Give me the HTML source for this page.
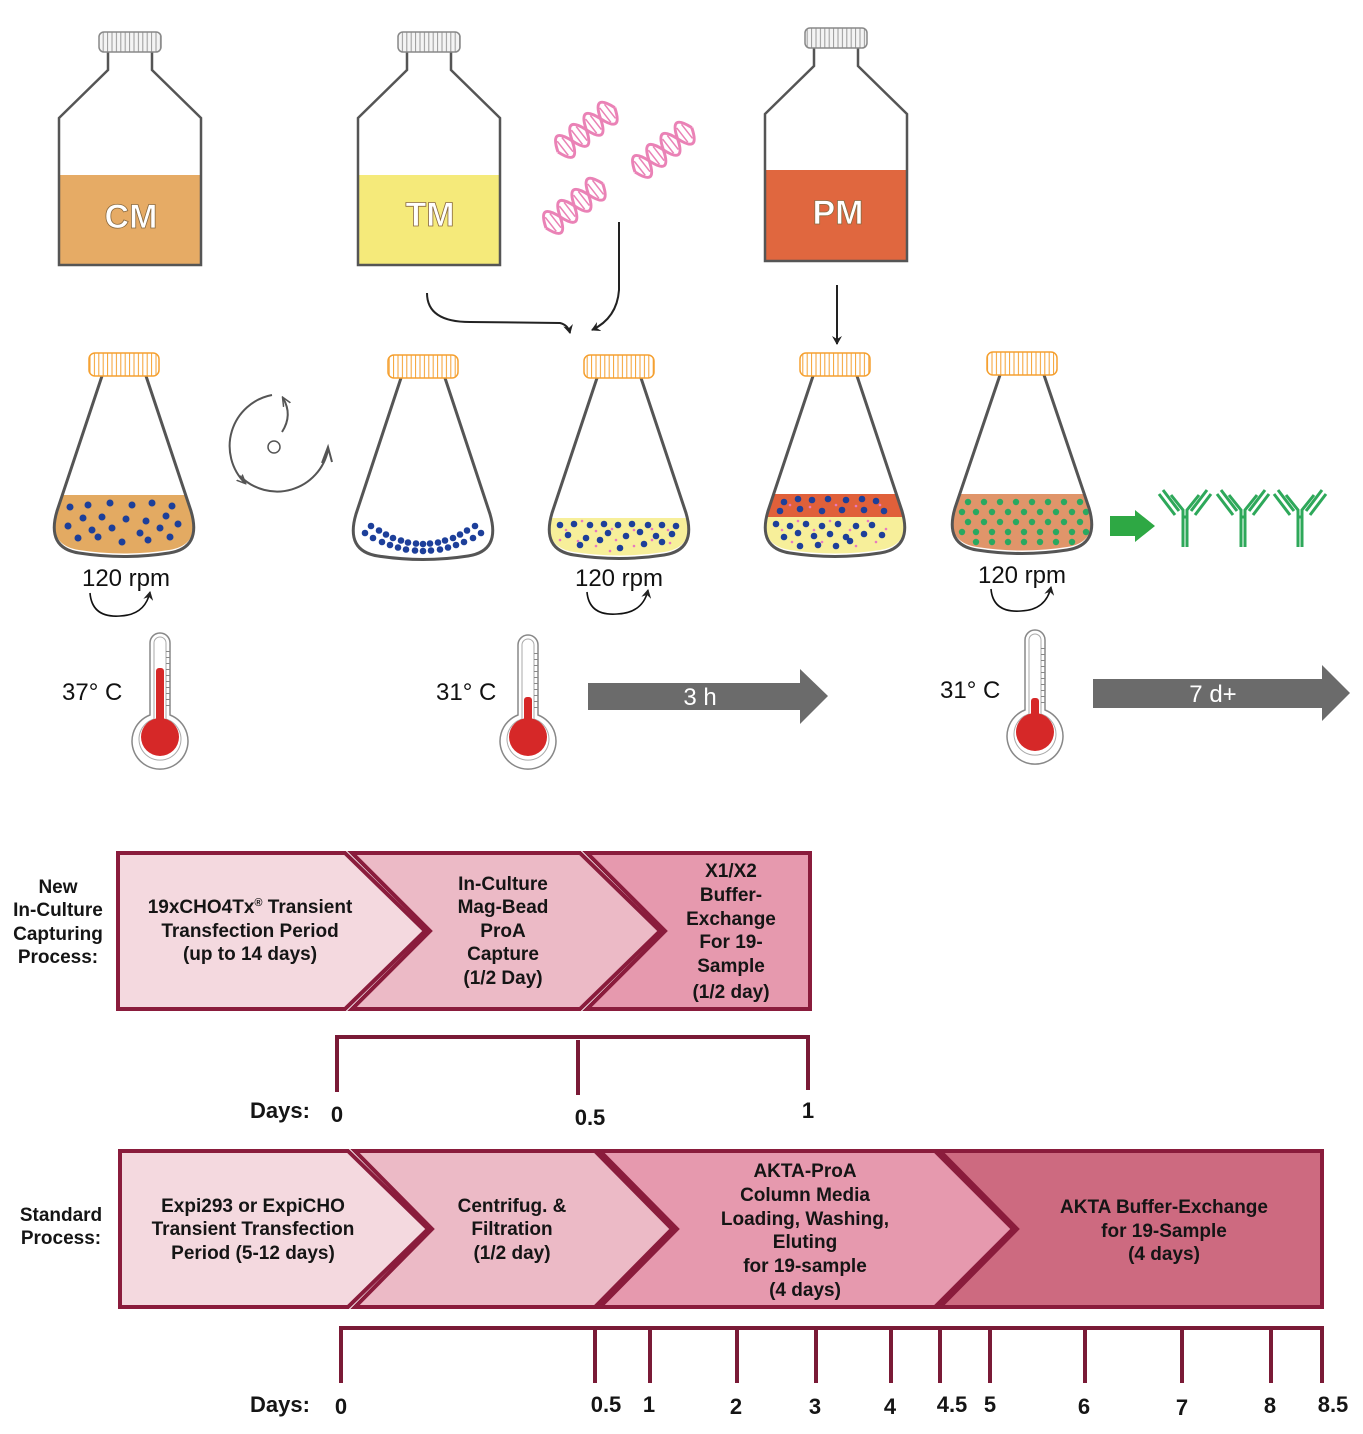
<!DOCTYPE html>
<html><head><meta charset="utf-8"><style>
html,body{margin:0;padding:0;background:#fff}
svg{display:block}
text{font-family:"Liberation Sans",sans-serif}
.b{font-weight:bold;font-size:19px;fill:#151515;text-anchor:middle}
.t{font-size:24px;fill:#111}
.bl{fill:#1d3f9a}
.pk{fill:#e879c0}
.gr{fill:#2aa860}
</style></head><body>
<svg width="1363" height="1434" viewBox="0 0 1363 1434" xmlns="http://www.w3.org/2000/svg">
<defs>
<marker id="ah" markerWidth="10" markerHeight="10" refX="8" refY="5" orient="auto" markerUnits="userSpaceOnUse"><path d="M0,0 L9,5 L0,10 L3,5Z" fill="#222"/></marker>
<marker id="ag" markerWidth="10" markerHeight="10" refX="8" refY="5" orient="auto" markerUnits="userSpaceOnUse"><path d="M0,1 L9,5 L0,9" fill="none" stroke="#555" stroke-width="1.5"/></marker>
<pattern id="so" width="4.4" height="30" patternUnits="userSpaceOnUse"><rect width="4.4" height="30" fill="#fff"/><line x1="2" y1="0" x2="2" y2="30" stroke="#f5a030" stroke-width="1"/></pattern>
<pattern id="sg" width="4.4" height="30" patternUnits="userSpaceOnUse"><rect width="4.4" height="30" fill="#f4f4f4"/><line x1="2" y1="0" x2="2" y2="30" stroke="#999" stroke-width="1"/></pattern>
<clipPath id="c1"><path d="M102,376 L57,508 Q46,545 79,550 Q124,557 169,550 Q202,545 191,508 L146,376Z"/></clipPath>
<clipPath id="c3"><path d="M597,378 L552,510 Q541,547 574,552 Q619,559 664,552 Q697,547 686,510 L641,378Z"/></clipPath>
<clipPath id="c4"><path d="M813,376 L768,508 Q757,545 790,550 Q835,557 880,550 Q913,545 902,508 L857,376Z"/></clipPath>
<clipPath id="c5"><path d="M1000,375 L955,505 Q944,542 977,547 Q1022,554 1067,547 Q1100,542 1089,505 L1044,375Z"/></clipPath>
<g id="dna" fill="none" stroke="#ea82b6" stroke-width="3"><path d="M0,0 Q9,26 18,0 T36,0 T54,0 T72,0"/><path d="M0,0 Q9,-26 18,0 T36,0 T54,0 T72,0"/><path stroke-width="1.5" d="M6,-9V9 M12,-9V9 M24,-9V9 M30,-9V9 M42,-9V9 M48,-9V9 M60,-9V9 M66,-9V9"/></g>
</defs>

<!-- bottles -->
<rect x="59" y="175" width="142" height="90" fill="#e6ab65"/>
<path d="M108,52 L108,70 L59,118 L59,265 L201,265 L201,118 L152,70 L152,52" fill="none" stroke="#555" stroke-width="2.5"/>
<rect x="99" y="32" width="62" height="20" rx="5" fill="url(#sg)" stroke="#888" stroke-width="1.5"/>
<text x="131" y="228" text-anchor="middle" font-size="34" font-weight="bold" fill="#fff" stroke="#8a6a40" stroke-width="0.8">CM</text>

<rect x="358" y="175" width="142" height="90" fill="#f5ea7a"/>
<path d="M407,52 L407,70 L358,118 L358,265 L500,265 L500,118 L451,70 L451,52" fill="none" stroke="#555" stroke-width="2.5"/>
<rect x="398" y="32" width="62" height="20" rx="5" fill="url(#sg)" stroke="#888" stroke-width="1.5"/>
<text x="430" y="226" text-anchor="middle" font-size="34" font-weight="bold" fill="#fff" stroke="#8a6a40" stroke-width="0.8">TM</text>

<rect x="765" y="170" width="142" height="91" fill="#e0673f"/>
<path d="M814,48 L814,66 L765,114 L765,261 L907,261 L907,114 L858,66 L858,48" fill="none" stroke="#555" stroke-width="2.5"/>
<rect x="805" y="28" width="62" height="20" rx="5" fill="url(#sg)" stroke="#888" stroke-width="1.5"/>
<text x="838" y="224" text-anchor="middle" font-size="34" font-weight="bold" fill="#fff" stroke="#8a6a40" stroke-width="0.8">PM</text>

<!-- DNA -->
<use href="#dna" transform="translate(558,152) rotate(-38)"/>
<use href="#dna" transform="translate(635,172) rotate(-38)"/>
<use href="#dna" transform="translate(546,228) rotate(-38)"/>

<!-- connectors -->
<path d="M427,293 Q427,322 470,322 L560,323 Q568,325 570,333" fill="none" stroke="#222" stroke-width="2" marker-end="url(#ah)"/>
<path d="M619,222 L619,290 Q617,318 592,330" fill="none" stroke="#222" stroke-width="2" marker-end="url(#ah)"/>
<line x1="837" y1="285" x2="837" y2="344" stroke="#222" stroke-width="2" marker-end="url(#ah)"/>

<!-- flask 1 -->
<g clip-path="url(#c1)"><rect x="40" y="495" width="170" height="80" fill="#e3aa62"/>
<g class="bl"><circle cx="70" cy="507" r="3.5"/><circle cx="88" cy="505" r="3.5"/><circle cx="110" cy="503" r="3.5"/><circle cx="132" cy="505" r="3.5"/><circle cx="152" cy="503" r="3.5"/><circle cx="172" cy="506" r="3.5"/><circle cx="83" cy="518" r="3.5"/><circle cx="102" cy="517" r="3.5"/><circle cx="126" cy="519" r="3.5"/><circle cx="146" cy="521" r="3.5"/><circle cx="166" cy="516" r="3.5"/><circle cx="68" cy="526" r="3.5"/><circle cx="92" cy="530" r="3.5"/><circle cx="112" cy="528" r="3.5"/><circle cx="140" cy="533" r="3.5"/><circle cx="160" cy="528" r="3.5"/><circle cx="178" cy="524" r="3.5"/><circle cx="78" cy="538" r="3.5"/><circle cx="98" cy="537" r="3.5"/><circle cx="122" cy="542" r="3.5"/><circle cx="148" cy="540" r="3.5"/><circle cx="170" cy="537" r="3.5"/></g></g>
<path d="M102,376 L57,511 Q46,548 79,553 Q124,560 169,553 Q202,548 191,511 L146,376" fill="none" stroke="#555" stroke-width="3"/>
<rect x="89" y="353" width="70" height="23" rx="6" fill="url(#so)" stroke="#f5a030" stroke-width="1.5"/>

<!-- flask 2 -->
<g class="bl">
<circle cx="365" cy="533" r="3.3"/><circle cx="373" cy="538" r="3.3"/><circle cx="382" cy="542" r="3.3"/><circle cx="390" cy="545" r="3.3"/><circle cx="398" cy="547.5" r="3.3"/><circle cx="406" cy="549.5" r="3.3"/><circle cx="415" cy="550.5" r="3.3"/><circle cx="423" cy="551" r="3.3"/><circle cx="431" cy="550.5" r="3.3"/><circle cx="440" cy="549.5" r="3.3"/><circle cx="448" cy="547.5" r="3.3"/><circle cx="456" cy="545" r="3.3"/><circle cx="464" cy="542" r="3.3"/><circle cx="473" cy="538" r="3.3"/><circle cx="481" cy="533" r="3.3"/>
<circle cx="371" cy="526" r="3.3"/><circle cx="379" cy="530.5" r="3.3"/><circle cx="386" cy="534.5" r="3.3"/><circle cx="393" cy="538" r="3.3"/><circle cx="401" cy="540.5" r="3.3"/><circle cx="408" cy="542.5" r="3.3"/><circle cx="416" cy="543.5" r="3.3"/><circle cx="423" cy="544" r="3.3"/><circle cx="430" cy="543.5" r="3.3"/><circle cx="438" cy="542.5" r="3.3"/><circle cx="445" cy="540.5" r="3.3"/><circle cx="453" cy="538" r="3.3"/><circle cx="460" cy="534.5" r="3.3"/><circle cx="467" cy="530.5" r="3.3"/><circle cx="475" cy="526" r="3.3"/>
</g>
<path d="M401,378 L356,514 Q345,551 378,556 Q423,563 468,556 Q501,551 490,514 L445,378" fill="none" stroke="#555" stroke-width="3"/>
<rect x="388" y="355" width="70" height="23" rx="6" fill="url(#so)" stroke="#f5a030" stroke-width="1.5"/>

<!-- flask 3 -->
<g clip-path="url(#c3)"><rect x="530" y="518" width="180" height="50" fill="#f7ef9a"/>
<g class="pk"><circle cx="566" cy="530" r="1.3"/><circle cx="582" cy="521" r="1.3"/><circle cx="596" cy="531" r="1.3"/><circle cx="612" cy="529" r="1.3"/><circle cx="634" cy="530" r="1.3"/><circle cx="652" cy="529" r="1.3"/><circle cx="668" cy="530" r="1.3"/><circle cx="578" cy="541" r="1.3"/><circle cx="596" cy="546" r="1.3"/><circle cx="616" cy="540" r="1.3"/><circle cx="634" cy="546" r="1.3"/><circle cx="652" cy="540" r="1.3"/><circle cx="670" cy="543" r="1.3"/><circle cx="560" cy="540" r="1.3"/><circle cx="610" cy="551" r="1.3"/></g>
<g class="bl"><circle cx="560" cy="525" r="3.3"/><circle cx="574" cy="524" r="3.3"/><circle cx="590" cy="525" r="3.3"/><circle cx="604" cy="524" r="3.3"/><circle cx="618" cy="525" r="3.3"/><circle cx="632" cy="524" r="3.3"/><circle cx="648" cy="525" r="3.3"/><circle cx="662" cy="525" r="3.3"/><circle cx="676" cy="526" r="3.3"/><circle cx="568" cy="535" r="3.3"/><circle cx="586" cy="538" r="3.3"/><circle cx="608" cy="533" r="3.3"/><circle cx="626" cy="536" r="3.3"/><circle cx="640" cy="532" r="3.3"/><circle cx="656" cy="536" r="3.3"/><circle cx="672" cy="534" r="3.3"/><circle cx="580" cy="545" r="3.3"/><circle cx="600" cy="540" r="3.3"/><circle cx="620" cy="548" r="3.3"/><circle cx="644" cy="544" r="3.3"/><circle cx="662" cy="542" r="3.3"/></g></g>
<path d="M597,378 L552,513 Q541,550 574,555 Q619,562 664,555 Q697,550 686,513 L641,378" fill="none" stroke="#555" stroke-width="3"/>
<rect x="584" y="355" width="70" height="23" rx="6" fill="url(#so)" stroke="#f5a030" stroke-width="1.5"/>

<!-- flask 4 -->
<g clip-path="url(#c4)"><rect x="750" y="517" width="180" height="50" fill="#f7ef9a"/><rect x="750" y="494" width="180" height="23" fill="#e0603a"/>
<g class="pk"><circle cx="790" cy="505" r="1.3"/><circle cx="810" cy="507" r="1.3"/><circle cx="836" cy="505" r="1.3"/><circle cx="856" cy="506" r="1.3"/><circle cx="880" cy="505" r="1.3"/><circle cx="782" cy="530" r="1.3"/><circle cx="798" cy="521" r="1.3"/><circle cx="814" cy="530" r="1.3"/><circle cx="830" cy="521" r="1.3"/><circle cx="850" cy="530" r="1.3"/><circle cx="868" cy="521" r="1.3"/><circle cx="886" cy="529" r="1.3"/><circle cx="792" cy="542" r="1.3"/><circle cx="822" cy="542" r="1.3"/><circle cx="856" cy="546" r="1.3"/><circle cx="876" cy="542" r="1.3"/></g>
<g class="bl"><circle cx="784" cy="502" r="3.3"/><circle cx="798" cy="499" r="3.3"/><circle cx="812" cy="500" r="3.3"/><circle cx="828" cy="499" r="3.3"/><circle cx="846" cy="500" r="3.3"/><circle cx="862" cy="499" r="3.3"/><circle cx="876" cy="501" r="3.3"/><circle cx="780" cy="511" r="3.3"/><circle cx="800" cy="509" r="3.3"/><circle cx="822" cy="511" r="3.3"/><circle cx="842" cy="510" r="3.3"/><circle cx="864" cy="510" r="3.3"/><circle cx="884" cy="511" r="3.3"/>
<circle cx="776" cy="524" r="3.3"/><circle cx="790" cy="526" r="3.3"/><circle cx="806" cy="524" r="3.3"/><circle cx="822" cy="526" r="3.3"/><circle cx="838" cy="524" r="3.3"/><circle cx="856" cy="526" r="3.3"/><circle cx="872" cy="525" r="3.3"/><circle cx="784" cy="537" r="3.3"/><circle cx="798" cy="533" r="3.3"/><circle cx="814" cy="536" r="3.3"/><circle cx="830" cy="534" r="3.3"/><circle cx="846" cy="537" r="3.3"/><circle cx="864" cy="534" r="3.3"/><circle cx="882" cy="535" r="3.3"/><circle cx="800" cy="546" r="3.3"/><circle cx="818" cy="545" r="3.3"/><circle cx="836" cy="546" r="3.3"/><circle cx="850" cy="541" r="3.3"/></g></g>
<path d="M813,376 L768,511 Q757,548 790,553 Q835,560 880,553 Q913,548 902,511 L857,376" fill="none" stroke="#555" stroke-width="3"/>
<rect x="800" y="353" width="70" height="23" rx="6" fill="url(#so)" stroke="#f5a030" stroke-width="1.5"/>

<!-- flask 5 -->
<g clip-path="url(#c5)"><rect x="935" y="494" width="180" height="70" fill="#e0956a"/>
<g class="gr">
<circle cx="968" cy="502" r="3.2"/><circle cx="984" cy="502" r="3.2"/><circle cx="1000" cy="502" r="3.2"/><circle cx="1016" cy="502" r="3.2"/><circle cx="1032" cy="502" r="3.2"/><circle cx="1048" cy="502" r="3.2"/><circle cx="1064" cy="502" r="3.2"/><circle cx="1080" cy="502" r="3.2"/>
<circle cx="962" cy="512" r="3.2"/><circle cx="976" cy="512" r="3.2"/><circle cx="992" cy="512" r="3.2"/><circle cx="1008" cy="512" r="3.2"/><circle cx="1024" cy="512" r="3.2"/><circle cx="1040" cy="512" r="3.2"/><circle cx="1056" cy="512" r="3.2"/><circle cx="1072" cy="512" r="3.2"/><circle cx="1086" cy="512" r="3.2"/>
<circle cx="968" cy="522" r="3.2"/><circle cx="984" cy="522" r="3.2"/><circle cx="1000" cy="522" r="3.2"/><circle cx="1016" cy="522" r="3.2"/><circle cx="1032" cy="522" r="3.2"/><circle cx="1048" cy="522" r="3.2"/><circle cx="1064" cy="522" r="3.2"/><circle cx="1080" cy="522" r="3.2"/>
<circle cx="962" cy="532" r="3.2"/><circle cx="976" cy="532" r="3.2"/><circle cx="992" cy="532" r="3.2"/><circle cx="1008" cy="532" r="3.2"/><circle cx="1024" cy="532" r="3.2"/><circle cx="1040" cy="532" r="3.2"/><circle cx="1056" cy="532" r="3.2"/><circle cx="1072" cy="532" r="3.2"/><circle cx="1086" cy="532" r="3.2"/>
<circle cx="976" cy="542" r="3.2"/><circle cx="992" cy="542" r="3.2"/><circle cx="1008" cy="542" r="3.2"/><circle cx="1024" cy="542" r="3.2"/><circle cx="1040" cy="542" r="3.2"/><circle cx="1056" cy="542" r="3.2"/><circle cx="1072" cy="542" r="3.2"/>
</g></g>
<path d="M1000,375 L955,508 Q944,545 977,550 Q1022,557 1067,550 Q1100,545 1089,508 L1044,375" fill="none" stroke="#555" stroke-width="3"/>
<rect x="987" y="352" width="70" height="23" rx="6" fill="url(#so)" stroke="#f5a030" stroke-width="1.5"/>

<!-- rotation symbol -->
<circle cx="274" cy="447" r="6" fill="none" stroke="#555" stroke-width="1.5"/>
<path d="M272,395 A52,52 0 0 0 245,483" fill="none" stroke="#555" stroke-width="2" marker-end="url(#ag)"/>
<path d="M240,476 A52,52 0 0 0 328,450" fill="none" stroke="#555" stroke-width="2"/>
<path d="M322,463 L328,447 L332,462" fill="none" stroke="#555" stroke-width="2"/>
<path d="M282,432 Q293,415 283,398" fill="none" stroke="#555" stroke-width="2" marker-end="url(#ag)"/>

<!-- rpm -->
<text class="t" x="126" y="586" text-anchor="middle">120 rpm</text>
<text class="t" x="619" y="586" text-anchor="middle">120 rpm</text>
<text class="t" x="1022" y="583" text-anchor="middle">120 rpm</text>
<path d="M90,593 Q92,618 120,616 Q145,615 150,592" fill="none" stroke="#111" stroke-width="1.6" marker-end="url(#ah)"/>
<path d="M587,592 Q589,616 617,614 Q643,613 648,590" fill="none" stroke="#111" stroke-width="1.6" marker-end="url(#ah)"/>
<path d="M991,589 Q993,613 1021,611 Q1046,610 1051,587" fill="none" stroke="#111" stroke-width="1.6" marker-end="url(#ah)"/>

<!-- temps -->
<text class="t" x="62" y="700">37° C</text>
<text class="t" x="436" y="700">31° C</text>
<text class="t" x="940" y="698">31° C</text>

<!-- thermometers -->
<path d="M150,643 A10,10 0 0 1 170,643 L170,715 A28,28 0 1 1 150,715Z" fill="#fff" stroke="#888" stroke-width="1.5"/>
<path d="M154,643 A6,6 0 0 1 166,643 L166,719 A21,21 0 1 1 154,719Z" fill="none" stroke="#aaa" stroke-width="1"/>
<line x1="168" y1="651" x2="168" y2="710" stroke="#888" stroke-width="4" stroke-dasharray="1 5"/>
<rect x="156" y="668" width="8" height="69" rx="3" fill="#d62828"/><circle cx="160" cy="737" r="19" fill="#d62828"/>

<path d="M518,645 A10,10 0 0 1 538,645 L538,715 A28,28 0 1 1 518,715Z" fill="#fff" stroke="#888" stroke-width="1.5"/>
<path d="M522,645 A6,6 0 0 1 534,645 L534,719 A21,21 0 1 1 522,719Z" fill="none" stroke="#aaa" stroke-width="1"/>
<line x1="536" y1="653" x2="536" y2="712" stroke="#888" stroke-width="4" stroke-dasharray="1 5"/>
<rect x="524" y="697" width="8" height="40" rx="3" fill="#d62828"/><circle cx="528" cy="737" r="19" fill="#d62828"/>

<path d="M1025,640 A10,10 0 0 1 1045,640 L1045,710 A28,28 0 1 1 1025,710Z" fill="#fff" stroke="#888" stroke-width="1.5"/>
<path d="M1029,640 A6,6 0 0 1 1041,640 L1041,714 A21,21 0 1 1 1029,714Z" fill="none" stroke="#aaa" stroke-width="1"/>
<line x1="1043" y1="648" x2="1043" y2="707" stroke="#888" stroke-width="4" stroke-dasharray="1 5"/>
<rect x="1031" y="698" width="8" height="34" rx="3" fill="#d62828"/><circle cx="1035" cy="732" r="19" fill="#d62828"/>

<!-- gray arrows -->
<path d="M588,683 L800,683 L800,669 L828,696 L800,724 L800,710 L588,710Z" fill="#6b6b6b"/>
<text x="700" y="705" fill="#fff" font-size="24" text-anchor="middle">3 h</text>
<path d="M1093,679 L1322,679 L1322,665 L1350,693 L1322,721 L1322,708 L1093,708Z" fill="#6b6b6b"/>
<text x="1213" y="702" fill="#fff" font-size="24" text-anchor="middle">7 d+</text>

<!-- green arrow + antibodies -->
<path d="M1110,516 L1135,516 L1135,510 L1155,526 L1135,542 L1135,536 L1110,536Z" fill="#2ea844"/>
<g fill="none" stroke="#2ea85a" stroke-width="3">
<g transform="translate(1185,487)"><path d="M-2,60 L-2,23 L-14,8 M2,60 L2,23 L14,8 M-6,24 L-22,3 M6,24 L22,3 M-10,28 L-26,7 M10,28 L26,7 M-3,30 L3,30"/></g>
<g transform="translate(1243,487)"><path d="M-2,60 L-2,23 L-14,8 M2,60 L2,23 L14,8 M-6,24 L-22,3 M6,24 L22,3 M-10,28 L-26,7 M10,28 L26,7 M-3,30 L3,30"/></g>
<g transform="translate(1300,487)"><path d="M-2,60 L-2,23 L-14,8 M2,60 L2,23 L14,8 M-6,24 L-22,3 M6,24 L22,3 M-10,28 L-26,7 M10,28 L26,7 M-3,30 L3,30"/></g>
</g>

<!-- chevrons -->
<g stroke="#8a1c3c" stroke-width="4" stroke-linejoin="miter">
<polygon points="118,853 345,853 425,931 345,1009 118,1009" fill="#f4d9df"/>
<polygon points="352,853 580,853 660,931 580,1009 352,1009 430,931" fill="#ecbac6"/>
<polygon points="587,853 810,853 810,1009 587,1009 665,931" fill="#e699ae"/>
<polygon points="120,1151 348,1151 428,1229 348,1307 120,1307" fill="#f4d9df"/>
<polygon points="355,1151 595,1151 672,1229 595,1307 355,1307 432,1229" fill="#ecbac6"/>
<polygon points="600,1151 935,1151 1013,1229 935,1307 600,1307 677,1229" fill="#e699ae"/>
<polygon points="940,1151 1322,1151 1322,1307 940,1307 1017,1229" fill="#cd6a80"/>
</g>
<g class="b">
<text x="58" y="893">New</text><text x="58" y="916">In-Culture</text><text x="58" y="940">Capturing</text><text x="58" y="963">Process:</text>
<text x="61" y="1221">Standard</text><text x="61" y="1244">Process:</text>
<text x="250" y="913">19xCHO4Tx<tspan font-size="11" dy="-7">®</tspan><tspan dy="7"> Transient</tspan></text><text x="250" y="937">Transfection Period</text><text x="250" y="960">(up to 14 days)</text>
<text x="503" y="890">In-Culture</text><text x="503" y="913">Mag-Bead</text><text x="503" y="937">ProA</text><text x="503" y="960">Capture</text><text x="503" y="984">(1/2 Day)</text>
<text x="731" y="877">X1/X2</text><text x="731" y="901">Buffer-</text><text x="731" y="925">Exchange</text><text x="731" y="948">For 19-</text><text x="731" y="972">Sample</text><text x="731" y="998">(1/2 day)</text>
<text x="253" y="1212">Expi293 or ExpiCHO</text><text x="253" y="1235">Transient Transfection</text><text x="253" y="1259">Period (5-12 days)</text>
<text x="512" y="1212">Centrifug. &amp;</text><text x="512" y="1235">Filtration</text><text x="512" y="1259">(1/2 day)</text>
<text x="805" y="1177">AKTA-ProA</text><text x="805" y="1201">Column Media</text><text x="805" y="1225">Loading, Washing,</text><text x="805" y="1248">Eluting</text><text x="805" y="1272">for 19-sample</text><text x="805" y="1296">(4 days)</text>
<text x="1164" y="1213">AKTA Buffer-Exchange</text><text x="1164" y="1237">for 19-Sample</text><text x="1164" y="1260">(4 days)</text>
</g>

<!-- timelines -->
<g stroke="#7a1a36" stroke-width="4" fill="none">
<path d="M337,1092 L337,1037 L810,1037 M578,1040 L578,1095 M808,1037 L808,1090"/>
<path d="M341,1383 L341,1328 L1322,1328"/>
<path d="M595,1326 V1383 M650,1326 V1383 M737,1326 V1383 M816,1326 V1383 M891,1326 V1383 M940,1326 V1383 M990,1326 V1383 M1085,1326 V1383 M1182,1326 V1383 M1271,1326 V1383 M1322,1326 V1383"/>
</g>
<g class="b" style="font-size:22px">
<text x="280" y="1118">Days:</text><text x="337" y="1122">0</text><text x="590" y="1125">0.5</text><text x="808" y="1118">1</text>
<text x="280" y="1412">Days:</text><text x="341" y="1414">0</text>
<text x="606" y="1412">0.5</text><text x="649" y="1412">1</text><text x="736" y="1414">2</text><text x="815" y="1414">3</text><text x="890" y="1414">4</text><text x="952" y="1412">4.5</text><text x="990" y="1412">5</text><text x="1084" y="1414">6</text><text x="1182" y="1415">7</text><text x="1270" y="1413">8</text><text x="1333" y="1412">8.5</text>
</g>
</svg>
</body></html>
